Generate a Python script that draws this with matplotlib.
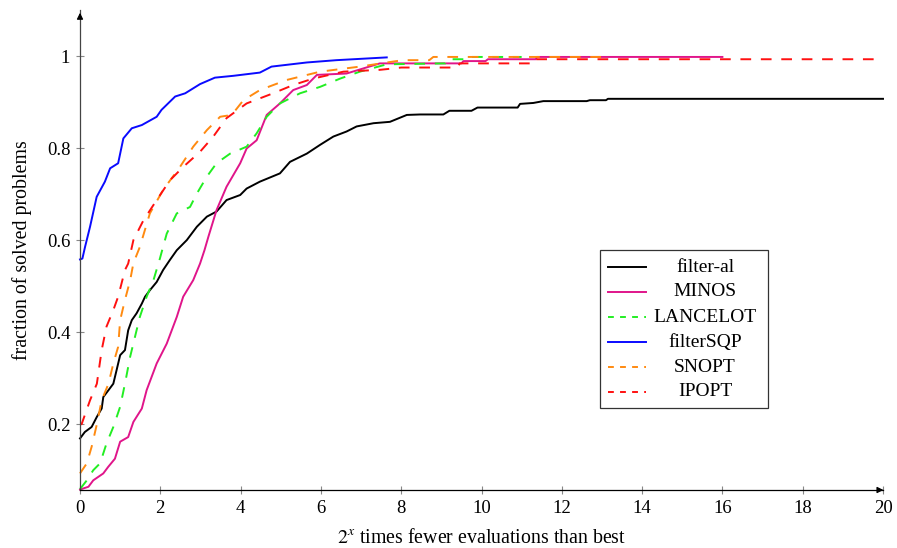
import matplotlib
matplotlib.use("Agg")
import matplotlib.pyplot as plt
from matplotlib.patches import Rectangle
from matplotlib.lines import Line2D

plt.rcParams['font.family'] = ['Liberation Serif', 'DejaVu Serif']
plt.rcParams['mathtext.fontset'] = 'stix'

# ---------------- data ----------------
filter_al_x = [0, 0.12, 0.29, 0.42, 0.54, 0.58, 0.71, 0.83, 0.91, 1.0, 1.12, 1.2, 1.29, 1.41, 1.54,
               1.62, 1.74, 1.91, 2.07, 2.24, 2.41, 2.66, 2.91, 3.16, 3.4, 3.65, 3.99, 4.15, 4.48, 4.98,
               5.23, 5.65, 5.98, 6.31, 6.64, 6.89, 7.31, 7.72, 8.14, 8.47, 9.05, 9.2, 9.75, 9.9, 10.9,
               10.96, 11.29, 11.54, 12.62, 12.7, 13.1, 13.15, 20]
filter_al_y = [0.169, 0.183, 0.194, 0.216, 0.234, 0.259, 0.274, 0.288, 0.317, 0.35, 0.361, 0.404, 0.426,
               0.441, 0.462, 0.477, 0.491, 0.509, 0.535, 0.557, 0.578, 0.6, 0.629, 0.651, 0.662, 0.687,
               0.698, 0.712, 0.727, 0.745, 0.77, 0.788, 0.807, 0.825, 0.836, 0.847, 0.854, 0.857, 0.872,
               0.873, 0.873, 0.881, 0.881, 0.888, 0.888, 0.896, 0.898, 0.902, 0.902, 0.904, 0.904, 0.907,
               0.907]

minos_x = [0, 0.21, 0.33, 0.58, 0.7, 0.87, 1.0, 1.2, 1.33, 1.54, 1.66, 1.91, 2.16, 2.41, 2.57, 2.82,
           2.99, 3.1, 3.2, 3.4, 3.65, 3.99, 4.15, 4.4, 4.65, 4.98, 5.31, 5.65, 5.9, 6.64, 7.47, 9.5,
           9.55, 10.1, 10.16, 11.35, 11.38, 16]
minos_y = [0.058, 0.064, 0.078, 0.093, 0.107, 0.125, 0.162, 0.172, 0.205, 0.234, 0.274, 0.332, 0.375,
           0.433, 0.477, 0.513, 0.549, 0.578, 0.608, 0.665, 0.716, 0.767, 0.799, 0.817, 0.872, 0.897,
           0.926, 0.937, 0.959, 0.962, 0.984, 0.984, 0.989, 0.989, 0.993, 0.993, 0.998, 0.998]

lancelot_x = [0, 0.17, 0.33, 0.5, 0.66, 0.83, 1.0, 1.12, 1.25, 1.37, 1.49, 1.66, 1.83, 1.99, 2.16,
              2.41, 2.74, 2.91, 3.16, 3.4, 3.74, 4.15, 4.4, 4.65, 4.98, 5.48, 5.98, 6.48, 6.97, 7.64,
              9.1, 9.15, 9.7, 9.75, 11]
lancelot_y = [0.059, 0.078, 0.1, 0.115, 0.158, 0.194, 0.238, 0.288, 0.347, 0.39, 0.433, 0.477, 0.513,
              0.56, 0.614, 0.658, 0.672, 0.701, 0.738, 0.767, 0.788, 0.803, 0.832, 0.868, 0.897, 0.919,
              0.933, 0.951, 0.966, 0.982, 0.984, 0.993, 0.993, 0.998, 0.998]

filtersqp_x = [0, 0.06, 0.125, 0.25, 0.415, 0.62, 0.75, 0.95, 1.08, 1.29, 1.54, 1.91, 2.03, 2.37,
               2.62, 2.99, 3.36, 3.82, 4.48, 4.77, 5.65, 6.39, 7.64]
filtersqp_y = [0.558, 0.56, 0.585, 0.629, 0.694, 0.727, 0.756, 0.767, 0.821, 0.843, 0.85, 0.868, 0.883,
               0.912, 0.919, 0.939, 0.953, 0.957, 0.964, 0.977, 0.986, 0.991, 0.997]

snopt_x = [0, 0.17, 0.29, 0.42, 0.54, 0.71, 0.83, 0.95, 1.0, 1.12, 1.25, 1.33, 1.49, 1.74, 2.07, 2.49,
           2.82, 3.16, 3.49, 3.78, 4.07, 4.48, 5.15, 5.98, 6.97, 7.8, 8.05, 8.7, 8.8, 13.2]
snopt_y = [0.093, 0.115, 0.151, 0.2, 0.252, 0.288, 0.332, 0.368, 0.426, 0.47, 0.513, 0.55, 0.585,
           0.658, 0.709, 0.759, 0.803, 0.839, 0.868, 0.872, 0.904, 0.926, 0.948, 0.966, 0.977, 0.988,
           0.991, 0.991, 0.998, 0.998]

ipopt_x = [0, 0.04, 0.25, 0.42, 0.54, 0.66, 0.83, 0.95, 1.12, 1.2, 1.33, 1.58, 1.91, 2.24, 2.57, 2.99,
           3.32, 3.65, 4.15, 4.81, 5.31, 5.81, 6.56, 7.47, 7.8, 8.0, 9.4, 9.46, 11.3, 11.33, 20]
ipopt_y = [0.2, 0.2, 0.252, 0.288, 0.361, 0.412, 0.448, 0.477, 0.535, 0.549, 0.6, 0.643, 0.687, 0.73,
           0.759, 0.792, 0.825, 0.865, 0.897, 0.919, 0.937, 0.951, 0.966, 0.97, 0.973, 0.975, 0.975,
           0.984, 0.984, 0.993, 0.993]

labels = ['filter-al', 'MINOS', 'LANCELOT', 'filterSQP', 'SNOPT', 'IPOPT']
xticks = [0, 2, 4, 6, 8, 10, 12, 14, 16, 18, 20]
yticks = [0.2, 0.4, 0.6, 0.8, 1.0]
yticklabels = ['0.2', '0.4', '0.6', '0.8', '1']

series = [(filter_al_x, filter_al_y), (minos_x, minos_y), (lancelot_x, lancelot_y),
          (filtersqp_x, filtersqp_y), (snopt_x, snopt_y), (ipopt_x, ipopt_y)]
colors = ['black', '#e0158a', '#22ee22', '#0a0aff', '#ff8a10', '#ff1010']
dashed = (0, (5.5, 5))
styles = ['-', '-', dashed, '-', dashed, dashed]

# ---------------- figure ----------------
fig = plt.figure(figsize=(8.97, 5.48), dpi=100)
ax = fig.add_axes([80/897, 58/548, 803/897, 480/548])

for (xs, ys), c, ls in zip(series, colors, styles):
    ax.plot(xs, ys, color=c, linestyle=ls, linewidth=1.4, clip_on=False)

ax.set_xlim(0, 20)
ax.set_ylim(0.057, 1.1)
ax.set_xticks(xticks)
ax.set_yticks(yticks)
ax.set_yticklabels(yticklabels)
ax.tick_params(axis='both', direction='inout', length=6, width=0.8, color='#888888',
               labelsize=13.5, pad=4)
for s in ['top', 'right']:
    ax.spines[s].set_visible(False)
ax.spines['left'].set_color('#444444')
ax.spines['bottom'].set_color('black')
ax.spines['left'].set_linewidth(0.9)
ax.spines['bottom'].set_linewidth(0.9)

# axis arrows
ax.annotate('', xy=(1.004, 0), xytext=(0.99, 0), xycoords='axes fraction',
            arrowprops=dict(arrowstyle='-|>', color='black', lw=0.9, mutation_scale=9))
ax.annotate('', xy=(0, 1.0), xytext=(0, 0.98), xycoords='axes fraction',
            arrowprops=dict(arrowstyle='-|>', color='black', lw=0.9, mutation_scale=9))

ax.set_xlabel('$2^x$ times fewer evaluations than best', fontsize=14.3, labelpad=9)
ax.set_ylabel('fraction of solved problems', fontsize=14.3, labelpad=11)

# legend (centered labels, as in the reference)
def ax_xy(px, py):
    return (px - 80) / 803, (490 - py) / 480

x0, y0 = ax_xy(600, 408)
x1, y1 = ax_xy(768, 250)
ax.add_patch(Rectangle((x0, y0), x1 - x0, y1 - y0, transform=ax.transAxes,
                       facecolor='white', edgecolor='#333333', linewidth=0.9, zorder=5,
                       clip_on=False))
rows = [267, 292, 317, 342, 367, 392]
hx0, _ = ax_xy(608, 0)
hx1, _ = ax_xy(646, 0)
tx, _ = ax_xy(705, 0)
for lab, c, ls, py in zip(labels, colors, styles, rows):
    _, yy = ax_xy(0, py)
    ax.add_line(Line2D([hx0, hx1], [yy, yy], transform=ax.transAxes, color=c,
                       linestyle=(0, (3, 3.2)) if ls != '-' else '-', linewidth=1.4, zorder=6,
                       clip_on=False))
    ax.text(tx, yy, lab, transform=ax.transAxes, ha='center', va='center', fontsize=14,
            zorder=6)

fig.savefig('out.png', dpi=100)
